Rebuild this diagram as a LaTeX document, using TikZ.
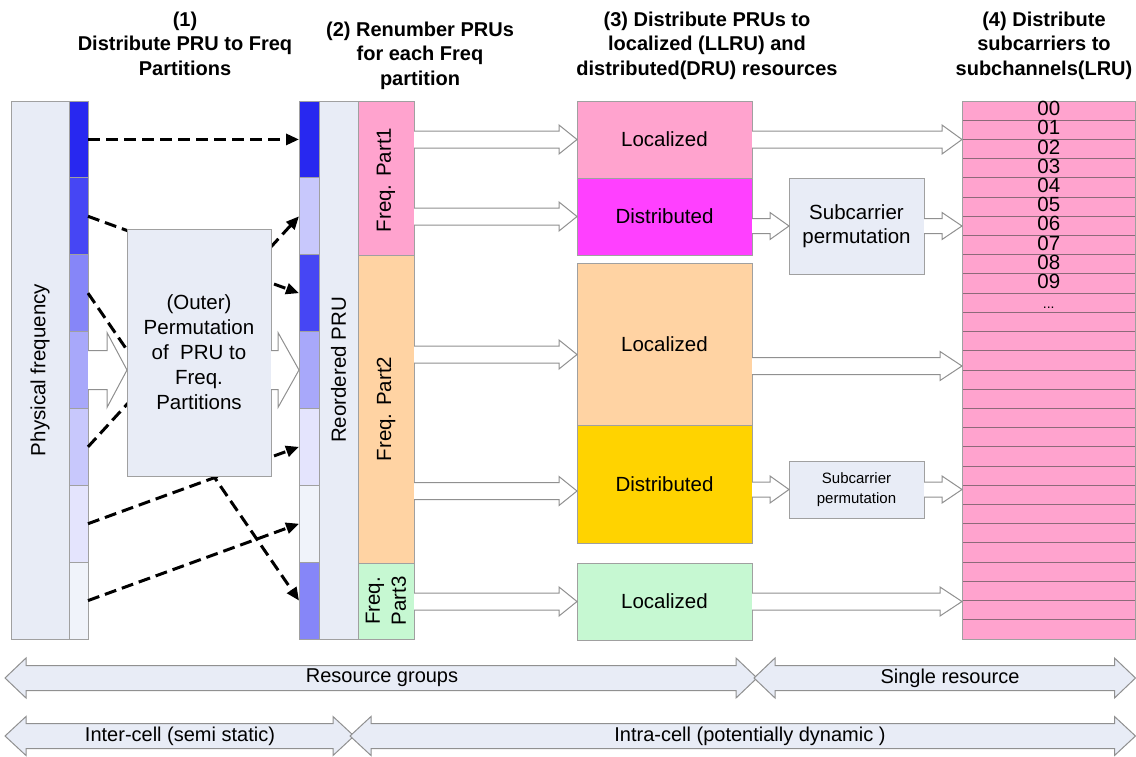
\documentclass[tikz,border=0pt]{standalone}
\usepackage{fontspec}
\setmainfont{Liberation Sans}
\usetikzlibrary{arrows.meta,calc}
\definecolor{bgblue}{HTML}{E8ECF6}
\definecolor{bA}{HTML}{2828F0}
\definecolor{bB}{HTML}{4646F4}
\definecolor{bC}{HTML}{8686F8}
\definecolor{bD}{HTML}{A8A8FA}
\definecolor{bE}{HTML}{C8C8FC}
\definecolor{bF}{HTML}{E4E4FD}
\definecolor{bG}{HTML}{F0F3FA}
\definecolor{pinkc}{HTML}{FFA3CE}
\definecolor{magc}{HTML}{FF40FF}
\definecolor{peachc}{HTML}{FFD3A3}
\definecolor{yellc}{HTML}{FFD300}
\definecolor{mintc}{HTML}{C6F8D2}
\definecolor{bordergray}{HTML}{A0A0A0}
\definecolor{arrowgray}{HTML}{909090}
\definecolor{stripeline}{HTML}{8E6A7A}
\newcommand\blockarr[5]{%
  \path[blockarrow] let \p1=(#1), \p2=(#2) in
    (\x1,\y2+#3pt) -- (\x2-#5pt,\y2+#3pt) -- (\x2-#5pt,\y2+#4pt) -- (\x2,\y2)
    -- (\x2-#5pt,\y2-#4pt) -- (\x2-#5pt,\y2-#3pt) -- (\x1,\y2-#3pt);}
\newcommand\dblarrow[6]{%
  \draw[dblarr] (#1,#3) -- (#1+#6,#3-#5) -- (#1+#6,#3-#4) -- (#2-#6,#3-#4)
    -- (#2-#6,#3-#5) -- (#2,#3) -- (#2-#6,#3+#5) -- (#2-#6,#3+#4)
    -- (#1+#6,#3+#4) -- (#1+#6,#3+#5) -- cycle;}
\begin{document}
\begin{tikzpicture}[x=1pt,y=-1pt,
  every node/.style={inner sep=0pt,outer sep=0pt},
  sz/.style 2 args={minimum width=#1pt,minimum height=#2pt},
  rect/.style={draw=bordergray,line width=1pt,anchor=north west},
  bodyfont/.style={font=\fontsize{20.5}{25}\selectfont},
  smallfont/.style={font=\fontsize{15}{20}\selectfont},
  titlefont/.style={font=\fontsize{20}{24.5}\selectfont\bfseries,align=center,anchor=north},
  stripe/.style={draw=stripeline,line width=1pt,fill=pinkc,anchor=north west,minimum width=173.5pt,minimum height=19.214pt},
  dasharr/.style={line width=3pt,dash pattern=on 12pt off 6pt,-{Triangle[length=13pt,width=11pt]}},
  blockarrow/.style={draw=arrowgray,fill=white,line width=1pt},
  dblarr/.style={draw=arrowgray,fill=bgblue,line width=1pt}]
\useasboundingbox (0,0) rectangle (1136,756);

% titles
\node[titlefont] (t1) at (185,12) {(1)\\Distribute PRU to Freq\\Partitions};
\node[titlefont] (t2) at (420,22) {(2) Renumber PRUs\\for each Freq\\partition};
\node[titlefont] (t3) at (707,12) {(3) Distribute PRUs to\\localized (LLRU) and\\distributed(DRU) resources};
\node[titlefont] (t4) at (1044,12) {(4) Distribute\\subcarriers to\\subchannels(LRU)};

% physical frequency column
\node[rect,fill=bgblue,sz={58}{538}] (phys) at (11,101) {};
\node[rotate=90,bodyfont] (physlbl) at (phys.center) {Physical frequency};
\foreach \i/\c in {1/bA,2/bB,3/bC,4/bD,5/bE,6/bF,7/bG}
  \node[rect,fill=\c,sz={19}{76.857}] (p\i) at (69,{101+(\i-1)*76.857}) {};

% reordered column
\node[rect,fill=bgblue,sz={39}{538}] (reord) at (319,101) {};
\node[rotate=90,bodyfont] (reordlbl) at (reord.center) {Reordered PRU};
\foreach \i/\c in {1/bA,2/bE,3/bB,4/bD,5/bF,6/bG,7/bC}
  \node[rect,fill=\c,sz={20}{76.857}] (r\i) at (299,{101+(\i-1)*76.857}) {};

% dashed mapping arrows
\draw[dasharr] (p1.east) -- (r1.west);
\draw[dasharr] (p2.east) -- (r3.west);
\draw[dasharr] (p3.east) -- (r7.west);
\draw[dasharr] (p5.east) -- (r2.west);
\draw[dasharr] (p6.east) -- (r5.west);
\draw[dasharr] (p7.east) -- (r6.west);

% outer permutation box
\node[rect,fill=bgblue,sz={144}{247},bodyfont,align=center] (perm) at (127,229)
  {(Outer)\\Permutation\\of\ \ PRU to\\Freq.\\Partitions};
\blockarr{p4.east}{perm.west |- p4.east}{19.5}{37.5}{20}
\blockarr{perm.east |- r4.west}{r4.west}{19.5}{37.5}{21}

% frequency partitions
\node[rect,fill=pinkc,sz={56}{154}] (fp1) at (358,101) {};
\node[rect,fill=peachc,sz={56}{308}] (fp2) at (358,255) {};
\node[rect,fill=mintc,sz={56}{76}] (fp3) at (358,563) {};
\node[rotate=90,bodyfont] (fp1lbl) at ($(fp1.center)+(0,2)$) {Freq. Part1};
\node[rotate=90,bodyfont] (fp2lbl) at (fp2.center) {Freq. Part2};
\node[rotate=90,bodyfont,align=center,font=\fontsize{20.5}{26}\selectfont] (fp3lbl) at (fp3.center) {Freq.\\Part3};

% localized / distributed
\node[rect,fill=pinkc,sz={175}{77},bodyfont] (loc1) at (577,101) {Localized};
\node[rect,fill=magc,sz={175}{77},bodyfont] (dis1) at (577,178) {Distributed};
\node[rect,fill=peachc,sz={175}{162},bodyfont] (loc2) at (577,263) {Localized};
\node[rect,fill=yellc,sz={175}{118},bodyfont] (dis2) at (577,425) {Distributed};
\node[rect,fill=mintc,sz={175}{77},bodyfont] (loc3) at (577,563) {Localized};

% subcarrier permutation
\node[rect,fill=bgblue,sz={135}{96},bodyfont,align=center,font=\fontsize{20.5}{24}\selectfont] (sub1) at (789,178) {Subcarrier\\permutation};
\node[rect,fill=bgblue,sz={135}{57},smallfont,align=center] (sub2) at (789,461) {Subcarrier\\permutation};

% subchannel stripes
\foreach \i in {0,...,27}
  \node[stripe] (st\i) at (962,{101+\i*19.214}) {};
\node[rect,sz={173.5}{538}] (strips) at (962,101) {};
\foreach \i in {0,...,9}
  \node[bodyfont] (lab\i) at ($(st\i.center)+(0,-2)$) {0\i};
\node[font=\fontsize{14}{14}\selectfont,anchor=base] (labdots) at ($(st10.center)+(0,6)$) {...};

% block arrows
\blockarr{fp1.east |- loc1.west}{loc1.west}{8.5}{14.5}{18}
\blockarr{fp1.east |- dis1.west}{dis1.west}{8.5}{14.5}{18}
\blockarr{fp2.east |- loc2.west}{$(loc2.west)+(0,10.5)$}{8.5}{14.5}{18}
\blockarr{fp2.east |- dis2.west}{$(dis2.west)+(0,7)$}{8.5}{14.5}{18}
\blockarr{fp3.east |- loc3.west}{loc3.west}{8.5}{14.5}{18}
\blockarr{loc1.east}{strips.west |- loc1.east}{8.5}{14.5}{20}
\blockarr{dis1.east |- sub1.west}{sub1.west}{7.5}{13.5}{19}
\blockarr{sub1.east}{strips.west |- sub1.east}{7.5}{13.5}{20}
\blockarr{$(loc2.east)+(0,22)$}{$(strips.west |- loc2.east)+(0,22)$}{8.5}{14.5}{22}
\blockarr{dis2.east |- sub2.west}{sub2.west}{7.5}{13.5}{19}
\blockarr{sub2.east}{strips.west |- sub2.east}{7.5}{13.5}{20}
\blockarr{loc3.east}{strips.west |- loc3.east}{8.5}{14.5}{22}

% bottom double arrows
\dblarrow{5}{757}{678}{12.5}{20}{21}
\dblarrow{754}{1135.5}{678}{12.5}{20}{21}
\dblarrow{5}{354}{736}{12.5}{19.5}{21}
\dblarrow{350}{1135.5}{736}{12.5}{19.5}{21}
\node[bodyfont,font=\fontsize{20}{24}\selectfont] (rg) at (382,678) {Resource groups};
\node[bodyfont,font=\fontsize{20}{24}\selectfont] (sr) at (950,678) {Single resource};
\node[bodyfont,font=\fontsize{20}{24}\selectfont] (ic) at (180,736) {Inter-cell (semi static)};
\node[bodyfont,font=\fontsize{20}{24}\selectfont] (ac) at (750,736) {Intra-cell (potentially dynamic )};
\end{tikzpicture}
\end{document}
